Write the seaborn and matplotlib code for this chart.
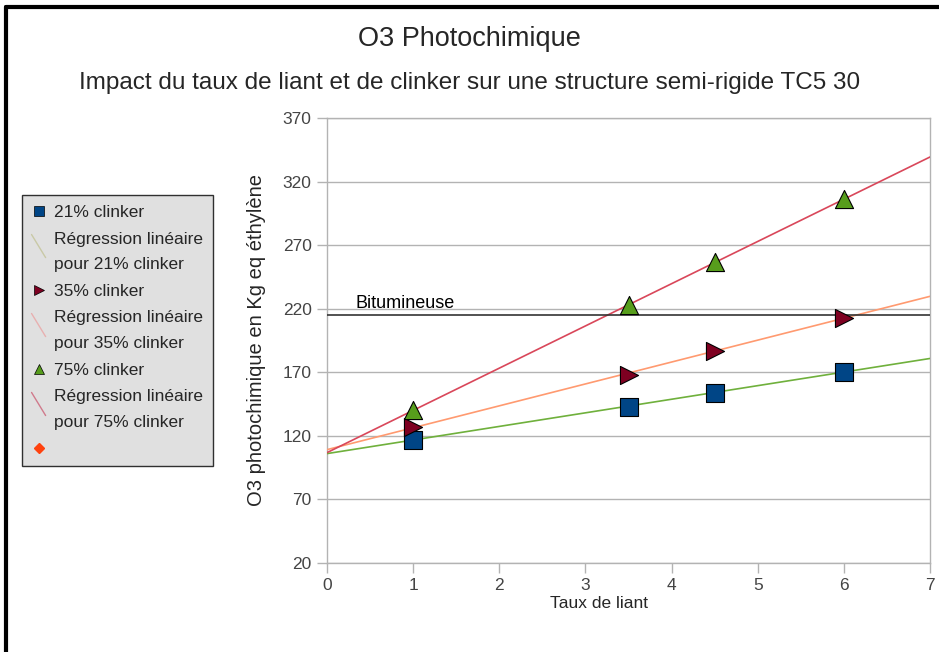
import numpy as np
import pandas as pd
import matplotlib
matplotlib.use("Agg")
import matplotlib.pyplot as plt
import seaborn as sns
from matplotlib.lines import Line2D
from matplotlib.legend_handler import HandlerBase

# ---- data ----
taux_liant = [1, 3.5, 4.5, 6]
clinker_21 = [117, 143, 154, 170.5]
clinker_35 = [127, 168, 187, 213]
clinker_75 = [140, 223, 256.5, 306]
bitumineuse = 215
x_ticks = [0, 1, 2, 3, 4, 5, 6, 7]
y_ticks = [20, 70, 120, 170, 220, 270, 320, 370]

series_names = ["21% clinker", "35% clinker", "75% clinker"]
series_vals = [clinker_21, clinker_35, clinker_75]
marker_colors = ["#004586", "#7e0021", "#579d1c"]
markers = ["s", ">", "^"]
reg_colors = ["#6fb03c", "#ff9a70", "#d9475a"]
reg_legend_colors = ["#c9c9a6", "#e8b0b0", "#d07a8c"]

sns.set_theme(style="white")
plt.rcParams["font.family"] = ["Liberation Sans", "DejaVu Sans"]


class DiagHandler(HandlerBase):
    def create_artists(self, legend, orig_handle, xdescent, ydescent, width, height, fontsize, trans):
        ln = Line2D([0, width * 0.9], [height * 1.9, 0],
                    color=orig_handle.get_color(), linewidth=1, transform=trans)
        return [ln]


fig = plt.figure(figsize=(9.39, 6.52), dpi=100)
ax = fig.add_axes([327/939, 1-563/652, (930-327)/939, (563-118)/652])

ax.set_xlim(0, 7)
ax.set_ylim(20, 370)
ax.set_yticks(y_ticks)
ax.set_xticks(x_ticks)
ax.yaxis.grid(True, color="#b3b3b3", linewidth=1)
ax.xaxis.grid(False)
for s in ax.spines.values():
    s.set_color("#b3b3b3")
    s.set_linewidth(1)
ax.tick_params(axis="both", which="both", length=7, width=1, color="#b3b3b3",
               labelsize=12.5, labelcolor="#444444", direction="out",
               left=True, bottom=True, pad=4)

xr = np.array([0, 7])
for name, vals, mc, mk, rc in zip(series_names, series_vals, marker_colors, markers, reg_colors):
    slope, intercept = np.polyfit(taux_liant, vals, 1)
    df_reg = pd.DataFrame({"x": xr, "y": intercept + slope * xr})
    sns.lineplot(data=df_reg, x="x", y="y", ax=ax, color=rc, linewidth=1.2, zorder=3)
for name, vals, mc, mk, rc in zip(series_names, series_vals, marker_colors, markers, reg_colors):
    df = pd.DataFrame({"x": taux_liant, "y": vals})
    sns.scatterplot(data=df, x="x", y="y", ax=ax, marker=mk, color=mc, s=170,
                    edgecolor="black", linewidth=0.8, zorder=4)

ax.axhline(bitumineuse, color="#333333", linewidth=1.2, zorder=3)
ax.text(0.33, bitumineuse + 2.5, "Bitumineuse", fontsize=13, color="black", va="bottom")

ax.set_xlabel("Taux de liant", fontsize=12.5)
ax.xaxis.set_label_coords((599-327)/603, -0.075)
ax.set_ylabel("O3 photochimique en Kg eq éthylène", fontsize=14.5, labelpad=12)

fig.text(0.5, 1-39/652, "O3 Photochimique", ha="center", va="center", fontsize=19.5)
fig.text(0.5, 1-83/652, "Impact du taux de liant et de clinker sur une structure semi-rigide TC5 30",
         ha="center", va="center", fontsize=17.5)

# legend
handles = [
    Line2D([], [], marker="s", color="#004586", linestyle="none", markersize=7, markeredgecolor="black", markeredgewidth=0.5),
    Line2D([], [], color=reg_legend_colors[0], linewidth=1),
    Line2D([], [], marker=">", color="#7e0021", linestyle="none", markersize=7, markeredgecolor="black", markeredgewidth=0.5),
    Line2D([], [], color=reg_legend_colors[1], linewidth=1),
    Line2D([], [], marker="^", color="#579d1c", linestyle="none", markersize=7, markeredgecolor="black", markeredgewidth=0.5),
    Line2D([], [], color=reg_legend_colors[2], linewidth=1),
    Line2D([], [], marker="D", color="#ff420e", linestyle="none", markersize=5, markeredgecolor="#ff420e"),
]
labels = ["21% clinker", "Régression linéaire\npour 21% clinker",
          "35% clinker", "Régression linéaire\npour 35% clinker",
          "75% clinker", "Régression linéaire\npour 75% clinker", ""]
handler_map = {handles[1]: DiagHandler(), handles[3]: DiagHandler(), handles[5]: DiagHandler()}
leg = fig.legend(handles, labels, loc="upper left", bbox_to_anchor=(22/939, 1-195/652),
                 frameon=True, fancybox=False, fontsize=12.5, handlelength=0.9,
                 handletextpad=0.4, labelspacing=0.68, borderpad=0.55, borderaxespad=0,
                 handler_map=handler_map)
for t in leg.get_texts():
    t.set_linespacing(1.85)
leg.get_frame().set_facecolor("#d9d9d9")
leg.get_frame().set_edgecolor("black")
leg.get_frame().set_linewidth(1)

# page border (top and left)
fig.add_artist(Line2D([6/939, 1], [1-7/652, 1-7/652], color="black", linewidth=3, transform=fig.transFigure))
fig.add_artist(Line2D([6/939, 6/939], [0, 1-7/652], color="black", linewidth=3, transform=fig.transFigure))

fig.savefig("out.png", dpi=100)
